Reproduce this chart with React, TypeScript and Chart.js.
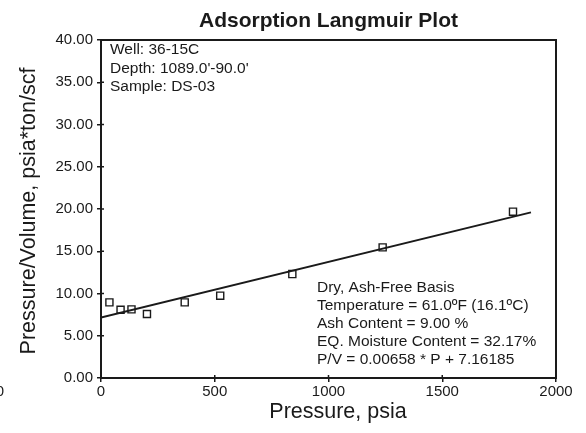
import React, { useEffect, useRef } from "react";
import { Chart, registerables } from "chart.js";

Chart.register(...registerables);

const pressure = [37, 86, 134, 202, 368, 524, 841, 1238, 1811];
const pvValues = [8.95, 8.08, 8.12, 7.57, 8.95, 9.74, 12.3, 15.46, 19.68];
const fitX = [0, 1890];
const fitY = [7.16, 19.6];
const xTicks = [0, 500, 1000, 1500, 2000];
const yTicks = [0, 5, 10, 15, 20, 25, 30, 35, 40];
const chartTitle = "Adsorption Langmuir Plot";
const xTitle = "Pressure, psia";
const yTitle = "Pressure/Volume, psia*ton/scf";
const infoTop = ["Well: 36-15C", "Depth: 1089.0'-90.0'", "Sample: DS-03"];
const infoBottom = [
  "Dry, Ash-Free Basis",
  "Temperature = 61.0ºF (16.1ºC)",
  "Ash Content = 9.00 %",
  "EQ. Moisture Content = 32.17%",
  "P/V = 0.00658 * P + 7.16185",
];

const FAMILY = "Liberation Sans";
const INK = "#1a1a1a";

const decorPlugin = {
  id: "decor",
  afterDraw(chart: any) {
    const ctx = chart.ctx;
    const ca = chart.chartArea;
    const xs = chart.scales.x;
    const ys = chart.scales.y;
    ctx.save();
    ctx.strokeStyle = INK;
    ctx.lineWidth = 2;
    ctx.strokeRect(ca.left, ca.top, ca.right - ca.left, ca.bottom - ca.top);
    ctx.lineWidth = 1.5;
    ctx.beginPath();
    xTicks.forEach((v) => {
      const px = xs.getPixelForValue(v);
      ctx.moveTo(px, ca.bottom);
      ctx.lineTo(px, ca.bottom - 3);
    });
    yTicks.forEach((v) => {
      const py = ys.getPixelForValue(v);
      ctx.moveTo(ca.left, py);
      ctx.lineTo(ca.left + 3, py);
    });
    ctx.stroke();

    ctx.fillStyle = INK;
    ctx.font = `bold 21px "${FAMILY}"`;
    ctx.textAlign = "center";
    ctx.textBaseline = "alphabetic";
    ctx.fillText(chartTitle, (ca.left + ca.right) / 2, 27);
    ctx.font = `21.5px "${FAMILY}"`;
    ctx.fillText(xTitle, 338, 418);
    ctx.save();
    ctx.translate(35, 211);
    ctx.rotate(-Math.PI / 2);
    ctx.fillText(yTitle, 0, 0);
    ctx.restore();
    ctx.font = `15.5px "${FAMILY}"`;
    ctx.textAlign = "left";
    ctx.textBaseline = "middle";
    const topY = [50, 69, 87];
    infoTop.forEach((t, i) => ctx.fillText(t, 110, topY[i]));
    infoBottom.forEach((t, i) => ctx.fillText(t, 317, 288 + i * 18));
    ctx.font = `15px "${FAMILY}"`;
    ctx.textAlign = "right";
    ctx.fillText("0", 4, 392);
    ctx.restore();
  },
};

export default function App() {
  const ref = useRef<HTMLCanvasElement | null>(null);
  useEffect(() => {
    if (!ref.current) return;
    const chart = new Chart(ref.current, {
      type: "scatter",
      data: {
        datasets: [
          {
            type: "line",
            label: "fit",
            data: fitX.map((x, i) => ({ x, y: fitY[i] })),
            borderColor: INK,
            borderWidth: 2,
            pointRadius: 0,
            fill: false,
          } as any,
          {
            label: "P/V",
            data: pressure.map((x, i) => ({ x, y: pvValues[i] })),
            pointStyle: "rect",
            pointRadius: 5,
            borderColor: INK,
            borderWidth: 1.4,
            backgroundColor: "rgba(0,0,0,0)",
          },
        ],
      },
      options: {
        animation: false,
        responsive: false,
        layout: { padding: { top: 40, right: 30, left: 0, bottom: 0 } },
        plugins: {
          legend: { display: false },
          title: { display: false },
          tooltip: { enabled: false },
        },
        scales: {
          x: {
            type: "linear",
            min: 0,
            max: 2000,
            afterBuildTicks: (s: any) => {
              s.ticks = xTicks.map((v) => ({ value: v }));
            },
            afterFit: (s: any) => {
              s.height = 55;
            },
            ticks: {
              font: { family: FAMILY, size: 15 },
              color: INK,
              padding: 1,
              maxRotation: 0,
              autoSkip: false,
              callback: (v: any) => String(v),
            },
            grid: { drawOnChartArea: false, drawTicks: true, tickLength: 4, color: INK, lineWidth: 1.5 },
            border: { display: true, color: INK, width: 2 },
          },
          y: {
            type: "linear",
            min: 0,
            max: 40,
            afterBuildTicks: (s: any) => {
              s.ticks = yTicks.map((v) => ({ value: v }));
            },
            afterFit: (s: any) => {
              s.width = 101;
            },
            ticks: {
              font: { family: FAMILY, size: 15 },
              color: INK,
              padding: 4,
              autoSkip: false,
              callback: (v: any) => Number(v).toFixed(2),
            },
            grid: { drawOnChartArea: false, drawTicks: true, tickLength: 4, color: INK, lineWidth: 1.5 },
            border: { display: true, color: INK, width: 2 },
          },
        },
      },
      plugins: [decorPlugin],
    });
    return () => chart.destroy();
  }, []);
  return (
    <div style={{ position: "absolute", left: 0, top: 0, width: 586, height: 433, background: "#fff" }}>
      <canvas ref={ref} width={586} height={433} />
    </div>
  );
}
